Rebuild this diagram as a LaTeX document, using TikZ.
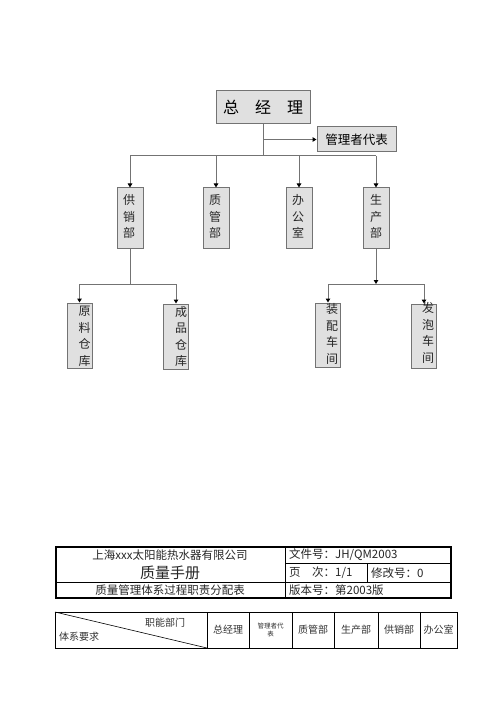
\documentclass[tikz,border=0pt]{standalone}
\usepackage{fontspec}
\newfontfamily\cjk{Noto Sans CJK SC}
\usetikzlibrary{arrows.meta,calc}
\newcommand{\fs}[2]{\fontsize{#1}{#2}\selectfont}
\begin{document}
\begin{tikzpicture}[x=1pt,y=-1pt,
  box/.style={draw=black!55, fill=black!12, line width=1pt, inner sep=0pt},
  vt/.style={font=\cjk\fs{12}{16.5}, align=center, inner sep=0pt, text=black!85},
  conn/.style={draw=black!55, line width=1pt},
  arr/.style={conn, -{Triangle[length=4pt,width=4.5pt,fill=black,color=black]}},
  tx/.style={font=\cjk\fs{11.5}{13}, inner sep=0pt, text=black!85},
  sm/.style={font=\cjk\fs{10}{12}, inner sep=0pt, text=black!80}]
\useasboundingbox (0,0) rectangle (500,708);
\fill[white] (0,0) rectangle (500,708);
% org chart boxes
\node[box, minimum width=94pt, minimum height=33pt, font=\cjk\fs{16}{18}] (zjl) at (263,107.5) {总\hspace{1em}经\hspace{1em}理};
\node[box, minimum width=79pt, minimum height=25pt, font=\cjk\fs{12.5}{14}] (glz) at (356.5,139.5) {管理者代表};
\node[box, minimum width=26pt, minimum height=61pt] (gxb) at (130,218.5) {};
\node[box, minimum width=26pt, minimum height=61pt] (zgb) at (216,218.5) {};
\node[box, minimum width=26pt, minimum height=61pt] (bgs) at (299,218.5) {};
\node[box, minimum width=26pt, minimum height=61pt] (scb) at (376,218.5) {};
\node[vt] (gxbt) at ($(gxb)+(-1,-2)$) {供\\销\\部};
\node[vt] (zgbt) at ($(zgb)+(-1,-2)$) {质\\管\\部};
\node[vt] (bgst) at ($(bgs)+(-1,-2)$) {办\\公\\室};
\node[vt] (scbt) at ($(scb)+(0,-2)$) {生\\产\\部};
\node[box, minimum width=25pt, minimum height=65pt] (ylk) at (79.5,335.5) {};
\node[box, minimum width=25pt, minimum height=65pt] (cpk) at (176,336.5) {};
\node[box, minimum width=25pt, minimum height=64pt] (zpj) at (328,335) {};
\node[box, minimum width=25pt, minimum height=64pt] (fpj) at (424,336) {};
\node[vt] (ylkt) at ($(ylk)+(5,1)$) {原\\料\\仓\\库};
\node[vt] (cpkt) at ($(cpk)+(5,0)$) {成\\品\\仓\\库};
\node[vt] (zpjt) at ($(zpj)+(4,-1)$) {装\\配\\车\\间};
\node[vt] (fpjt) at ($(fpj)+(4,-3)$) {发\\泡\\车\\间};
% connectors
\coordinate (b1) at (263,156);
\coordinate (b2) at (130,284);
\draw[conn] (zjl.south) -- (b1);
\draw[arr] (zjl.south |- glz.west) -- (glz.west);
\draw[conn] (gxb.north |- b1) -- (scb.north |- b1);
\draw[arr] (gxb.north |- b1) -- (gxb.north);
\draw[arr] (zgb.north |- b1) -- (zgb.north);
\draw[arr] (bgs.north |- b1) -- (bgs.north);
\draw[arr] (scb.north |- b1) -- (scb.north);
\draw[conn] (gxb.south) -- (gxb.south |- b2);
\draw[conn] (ylk.north |- b2) -- (cpk.north |- b2);
\draw[arr] (ylk.north |- b2) -- (ylk.north);
\draw[arr] (cpk.north |- b2) -- (cpk.north);
\draw[arr] (scb.south) -- (scb.south |- b2);
\draw[conn] (zpj.north |- b2) -- (fpj.north |- b2);
\draw[arr] (zpj.north |- b2) -- (zpj.north);
\draw[arr] (fpj.north |- b2) -- (fpj.north);
% table 1
\draw[line width=0.8pt] (285,547) -- (285,598);
\draw[line width=0.8pt] (56,582) -- (451,582);
\draw[line width=0.8pt] (285,563) -- (451,563);
\draw[line width=0.8pt] (367,563) -- (367,582);
\draw[line width=1.6pt] (56,547) rectangle (451,598);
\node[tx] (t1) at (170,555) {上海xxx太阳能热水器有限公司};
\node[tx, font=\cjk\fs{15}{17}] (t2) at (170,572.5) {质量手册};
\node[tx] (t3) at (170,590) {质量管理体系过程职责分配表};
\node[tx, anchor=west] (r1) at (289,555) {文件号：JH/QM2003};
\node[tx, anchor=west] (r2) at (289,573) {页\hspace{1em}次：1/1};
\node[tx, anchor=west] (r3) at (371,573) {修改号：0};
\node[tx, anchor=west] (r4) at (289,590) {版本号：第2003版};
% table 2
\draw[line width=0.6pt] (55,612) rectangle (457,648);
\foreach \xx in {207,249,292,334,378,420} \draw[line width=0.6pt] (\xx,612) -- (\xx,648);
\draw[line width=0.6pt] (55,612) -- (207,648);
\node[sm] (znbm) at (165,623) {职能部门};
\node[sm] (txyq) at (79,637) {体系要求};
\node[sm] (h1) at (228,630) {总经理};
\node[sm, font=\cjk\fs{6.5}{8}, align=center] (h2) at (270.5,630) {管理者代\\表};
\node[sm] (h3) at (313,630) {质管部};
\node[sm] (h4) at (356,630) {生产部};
\node[sm] (h5) at (399,630) {供销部};
\node[sm] (h6) at (438.5,630) {办公室};
\end{tikzpicture}
\end{document}
